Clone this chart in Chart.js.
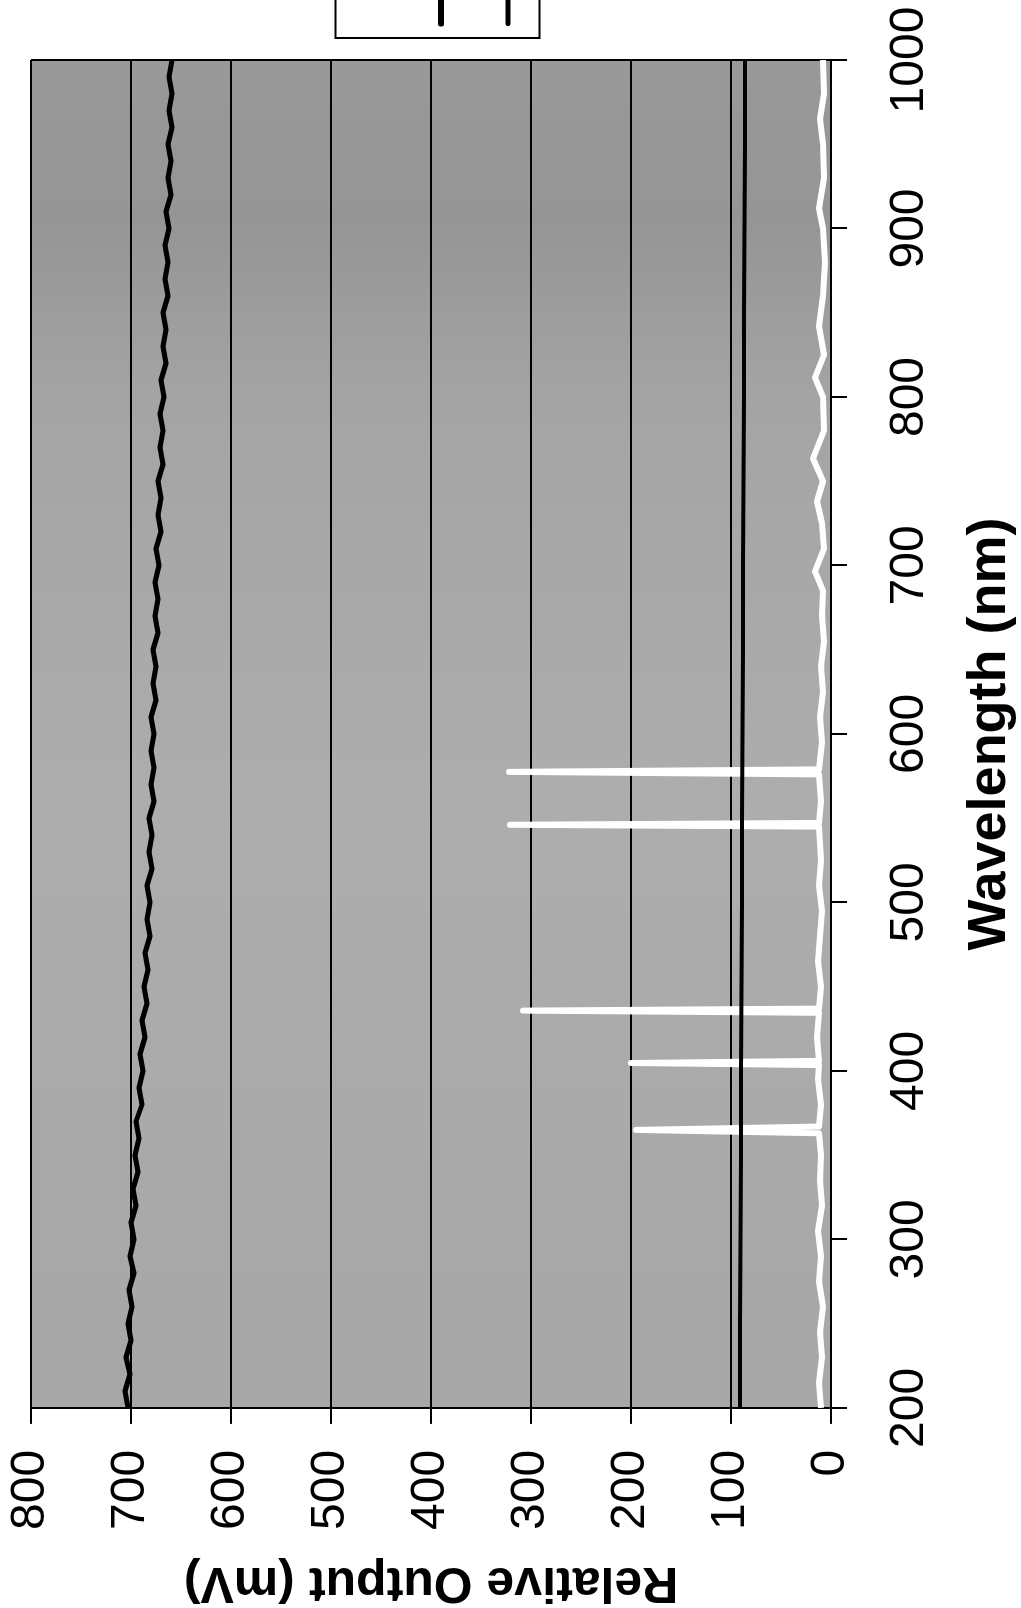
<!DOCTYPE html>
<html>
<head>
<meta charset="utf-8">
<script src="https://cdn.jsdelivr.net/npm/chart.js@4.4.1/dist/chart.umd.min.js"></script>
<style>
	html, body { margin: 0; padding: 0; background: #fff; overflow: hidden; }
	body { width: 1021px; height: 1608px; position: relative; }
	#wrap {
		position: absolute;
		left: 0;
		top: 0;
		width: 1900px;
		height: 1021px;
		transform-origin: 0 0;
		transform: translateY(1608px) rotate(-90deg);
	}
</style>
</head>
<body>
<div id="wrap"><canvas id="spectrum" width="1900" height="1021"></canvas></div>
<script>
// source trace, read every 10 nm
const wavelengths = [
	200, 210, 220, 230, 240, 250, 260, 270, 280, 290,
	300, 310, 320, 330, 340, 350, 360, 370, 380, 390,
	400, 410, 420, 430, 440, 450, 460, 470, 480, 490,
	500, 510, 520, 530, 540, 550, 560, 570, 580, 590,
	600, 610, 620, 630, 640, 650, 660, 670, 680, 690,
	700, 710, 720, 730, 740, 750, 760, 770, 780, 790,
	800, 810, 820, 830, 840, 850, 860, 870, 880, 890,
	900, 910, 920, 930, 940, 950, 960, 970, 980, 990,
	1000
];
const sourceOutput = [
	703, 706, 701, 705, 700, 703, 699, 702, 697, 701,
	697, 700, 695, 698, 693, 696, 692, 695, 689, 692,
	688, 691, 686, 689, 684, 687, 683, 686, 681, 684,
	681, 684, 679, 682, 679, 682, 677, 680, 677, 680,
	677, 680, 675, 678, 675, 678, 673, 676, 673, 676,
	672, 675, 670, 673, 670, 673, 668, 671, 668, 671,
	667, 670, 665, 668, 665, 668, 663, 666, 663, 666,
	662, 665, 660, 663, 660, 663, 659, 662, 659, 662,
	659
];

// dark trace
const darkWavelengths = [200, 250, 300, 350, 400, 450, 500, 550, 600, 650, 700, 750, 800, 850, 900, 950, 1000];
const darkOutput = [91, 91, 90.5, 90, 90, 89.5, 89, 89, 88.5, 88, 88, 87.5, 87, 87, 86.5, 86, 86];

// calibration lamp trace (white, with the Hg lines)
const lampWavelengths = [
	200, 215, 230, 245, 260, 275, 290, 305, 320, 335, 350, 363, 365, 367,
	380, 395, 403.5, 404.7, 406, 420, 434.5, 435.8, 437, 450, 465, 480, 495,
	510, 525, 545, 546.1, 547.2, 560, 576, 577.5, 579, 595, 610, 625, 640,
	655, 670, 685, 696.5, 710, 725, 738, 750, 763.5, 780, 800, 811.5, 825,
	842, 860, 880, 900, 912, 930, 950, 965, 980, 1000
];
const lampOutput = [
	10, 12, 9, 11, 8, 12, 10, 13, 9, 11, 10, 12, 195, 12,
	10, 13, 12, 200, 12, 14, 12, 308, 12, 10, 13, 11, 9,
	12, 10, 12, 321, 12, 10, 12, 322, 12, 9, 11, 8, 10,
	7, 9, 8, 16, 7, 9, 14, 8, 18, 7, 8, 16, 7,
	12, 8, 6, 8, 12, 7, 8, 11, 7, 8
];

const seriesLabels = ['Hg-Ar calibration lamp output', 'Tungsten-halogen source output', 'Detector dark output signal'];

function punti(xs, ys) {
	return xs.map((x, i) => ({ x, y: ys[i] }));
}

const fontFamily = '"Liberation Sans", Arial, sans-serif';

const plotBackground = {
	id: 'plotBackground',
	beforeDraw(chart) {
		const { ctx, chartArea } = chart;
		const g = ctx.createLinearGradient(chartArea.left, 0, chartArea.right, 0);
		g.addColorStop(0, '#a7a7a7');
		g.addColorStop(0.45, '#adadad');
		g.addColorStop(0.75, '#a4a4a4');
		g.addColorStop(0.88, '#959595');
		g.addColorStop(1, '#999999');
		ctx.save();
		ctx.fillStyle = g;
		ctx.fillRect(chartArea.left, chartArea.top, chartArea.right - chartArea.left, chartArea.bottom - chartArea.top);
		ctx.restore();
	}
};

const legendFrame = {
	id: 'legendFrame',
	afterDraw(chart) {
		const legend = chart.legend;
		if (!legend || !legend.legendHitBoxes.length) {
			return;
		}
		const boxes = legend.legendHitBoxes;
		const first = boxes[0];
		const last = boxes[boxes.length - 1];
		const ctx = chart.ctx;
		ctx.save();
		ctx.strokeStyle = '#000';
		ctx.lineWidth = 2;
		ctx.strokeRect(first.left - 14, first.top - 23, legend.right - first.left + 4, last.top + last.height + 39 - first.top);
		ctx.restore();
	}
};

new Chart(document.getElementById('spectrum'), {
	type: 'line',
	data: {
		datasets: [
			{
				label: seriesLabels[0],
				data: punti(lampWavelengths, lampOutput),
				borderColor: '#ffffff',
				backgroundColor: '#ffffff',
				borderWidth: 6,
				order: 2
			},
			{
				label: seriesLabels[1],
				data: punti(wavelengths, sourceOutput),
				borderColor: '#000000',
				backgroundColor: '#000000',
				borderWidth: 5,
				order: 0
			},
			{
				label: seriesLabels[2],
				data: punti(darkWavelengths, darkOutput),
				borderColor: '#000000',
				backgroundColor: '#000000',
				borderWidth: 4,
				order: 1
			}
		]
	},
	options: {
		responsive: false,
		animation: false,
		events: [],
		elements: {
			point: { radius: 0 },
			line: { tension: 0, borderJoinStyle: 'round' }
		},
		layout: { padding: { top: 31, left: 0, right: 0, bottom: 4 } },
		scales: {
			x: {
				type: 'linear',
				min: 200,
				max: 1000,
				ticks: {
					stepSize: 100,
					color: '#000',
					padding: 39,
					font: { family: fontFamily, size: 48, lineHeight: 1 },
					callback: (v) => String(v)
				},
				grid: {
					color: (c) => (c.tick && c.tick.value === 1000 ? '#000' : 'rgba(0,0,0,0)'),
					tickColor: '#000',
					tickLength: 16,
					lineWidth: 2
				},
				border: { color: '#000', width: 2 },
				title: {
					display: true,
					text: 'Wavelength (nm)',
					color: '#000',
					font: { family: fontFamily, size: 54, weight: 'bold', lineHeight: 0.5 },
					padding: { top: 4, bottom: 13 }
				}
			},
			y: {
				min: 0,
				max: 800,
				ticks: {
					stepSize: 100,
					color: '#000',
					padding: 26,
					font: { family: fontFamily, size: 48, lineHeight: 0.2 },
					callback: (v) => String(v)
				},
				grid: {
					color: '#000',
					tickColor: '#000',
					tickLength: 16,
					lineWidth: 2
				},
				border: { color: '#000', width: 2 },
				title: {
					display: true,
					text: 'Relative Output (mV)',
					color: '#000',
					font: { family: fontFamily, size: 50, weight: 'bold', lineHeight: 1 },
					padding: { top: 1, bottom: 1 }
				}
			}
		},
		plugins: {
			tooltip: { enabled: false },
			legend: {
				position: 'right',
				fullSize: false,
				align: 'center',
				maxWidth: 352,
				title: { display: true, text: ' ', font: { size: 10, lineHeight: 1 }, padding: 5 },
				labels: {
					color: '#000',
					font: { family: fontFamily, size: 31 },
					padding: 36,
					boxWidth: 90,
					boxHeight: 1,
					sort: (a, b) => a.datasetIndex - b.datasetIndex
				}
			}
		}
	},
	plugins: [plotBackground, legendFrame]
});
</script>
</body>
</html>
